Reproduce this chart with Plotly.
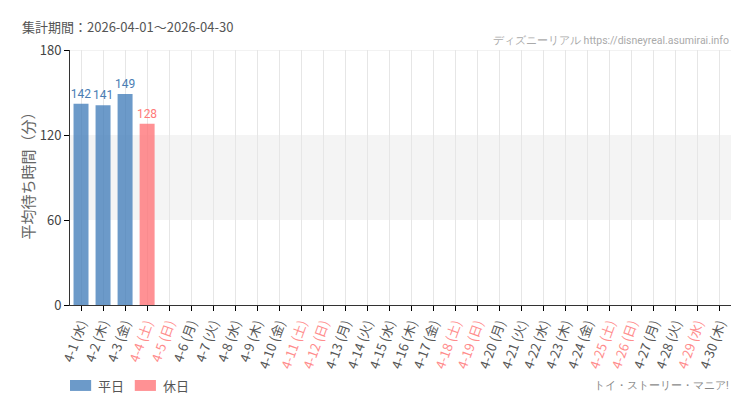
import plotly.graph_objects as go

days = [f"4-{d}" for d in range(1, 31)]
weekdays_jp = ["水", "木", "金", "土", "日", "月", "火"]
day_names = [weekdays_jp[i % 7] for i in range(30)]
holidays = ["4-4", "4-5", "4-11", "4-12", "4-18", "4-19", "4-25", "4-26", "4-29"]

# average wait (minutes), only the first days have data so far
weekday_wait = [142, 141, 149, None, None, None, None, None, None, None,
                None, None, None, None, None, None, None, None, None, None,
                None, None, None, None, None, None, None, None, None, None]
holiday_wait = [None, None, None, 128, None, None, None, None, None, None,
                None, None, None, None, None, None, None, None, None, None,
                None, None, None, None, None, None, None, None, None, None]

y_ticks = [0, 60, 120, 180]

blue = "rgba(62,122,184,0.76)"
pink = "rgba(255,110,115,0.76)"
narrow = "Roboto, sans-serif"

tick_text = []
for d, n in zip(days, day_names):
    label = f"{d} ({n})"
    if d in holidays:
        label = f"<span style='color:#ff8c8c'>{label}</span>"
    tick_text.append(label)

fig = go.Figure()
fig.add_trace(go.Bar(
    x=days, y=weekday_wait, name="平日",
    marker=dict(color=blue, line=dict(width=0)),
    text=weekday_wait, textposition="outside", cliponaxis=False, constraintext="none",
    textfont=dict(color="#4a7db3", size=12, family=narrow),
))
fig.add_trace(go.Bar(
    x=days, y=holiday_wait, name="休日",
    marker=dict(color=pink, line=dict(width=0)),
    text=holiday_wait, textposition="outside", cliponaxis=False, constraintext="none",
    textfont=dict(color="#ff7a7a", size=12, family=narrow),
))

# light band between 60 and 120
fig.add_shape(type="rect", xref="paper", yref="y", x0=0, x1=1, y0=60, y1=120,
              fillcolor="#f4f4f4", line=dict(width=0), layer="below")
fig.add_shape(type="line", xref="paper", yref="y", x0=0, x1=1, y0=180, y1=180,
              line=dict(color="#e6e6e6", width=1))

fig.add_annotation(text="集計期間：2026-04-01～2026-04-30", xref="paper", yref="paper",
                   x=-0.076, y=1.094, xanchor="left", yanchor="middle", showarrow=False,
                   font=dict(size=13, color="#555555"))
fig.add_annotation(text="ディズニーリアル https://disneyreal.asumirai.info", xref="paper", yref="paper",
                   x=1, y=1.039, xanchor="right", yanchor="middle", showarrow=False,
                   font=dict(size=10.5, color="#aaaaaa", family=narrow))
fig.add_annotation(text="トイ・ストーリー・マニア!", xref="paper", yref="paper",
                   x=1, y=-0.314, xanchor="right", yanchor="middle", showarrow=False,
                   font=dict(size=10.5, color="#888888", family=narrow))
# y axis title placed by hand (closer to the tick labels than standoff allows)
fig.add_annotation(text="平均待ち時間（分）", xref="paper", yref="paper",
                   x=-0.065, y=0.52, xanchor="center", yanchor="middle", showarrow=False,
                   textangle=-90, font=dict(size=15, color="#666666"))

# legend drawn by hand to get the wide swatches
fig.add_shape(type="rect", xref="paper", yref="paper", x0=0, x1=0.032, y0=-0.337, y1=-0.294,
              fillcolor=blue, line=dict(width=0))
fig.add_annotation(text="平日", xref="paper", yref="paper", x=0.039, y=-0.314,
                   xanchor="left", yanchor="middle", showarrow=False,
                   font=dict(size=13, color="#555555"))
fig.add_shape(type="rect", xref="paper", yref="paper", x0=0.098, x1=0.130, y0=-0.337, y1=-0.294,
              fillcolor=pink, line=dict(width=0))
fig.add_annotation(text="休日", xref="paper", yref="paper", x=0.138, y=-0.314,
                   xanchor="left", yanchor="middle", showarrow=False,
                   font=dict(size=13, color="#555555"))

# page body has an 8px margin, so the figure is made 8px smaller
fig.update_layout(
    width=742, height=402,
    margin=dict(l=62, r=19, t=42, b=105),
    plot_bgcolor="white", paper_bgcolor="white",
    barmode="overlay", bargap=0.32,
    font=dict(family="Noto Sans CJK JP", color="#444444"),
    showlegend=False,
)
fig.update_xaxes(
    type="category", tickvals=days, ticktext=tick_text, tickangle=-70,
    showgrid=True, gridcolor="#e6e6e6", gridwidth=1,
    showline=True, linecolor="#333333", linewidth=1,
    ticks="outside", tickcolor="#000000", ticklen=5,
    tickfont=dict(size=13, color="#555555"), automargin=False,
)
fig.update_yaxes(
    range=[0, 180], tickvals=y_ticks, showgrid=False,
    showline=True, linecolor="#333333", linewidth=1,
    ticks="outside", tickcolor="#000000", ticklen=5,
    tickfont=dict(size=13, color="#444444"),
    zeroline=False, automargin=False,
)

fig.write_html("out.html")
